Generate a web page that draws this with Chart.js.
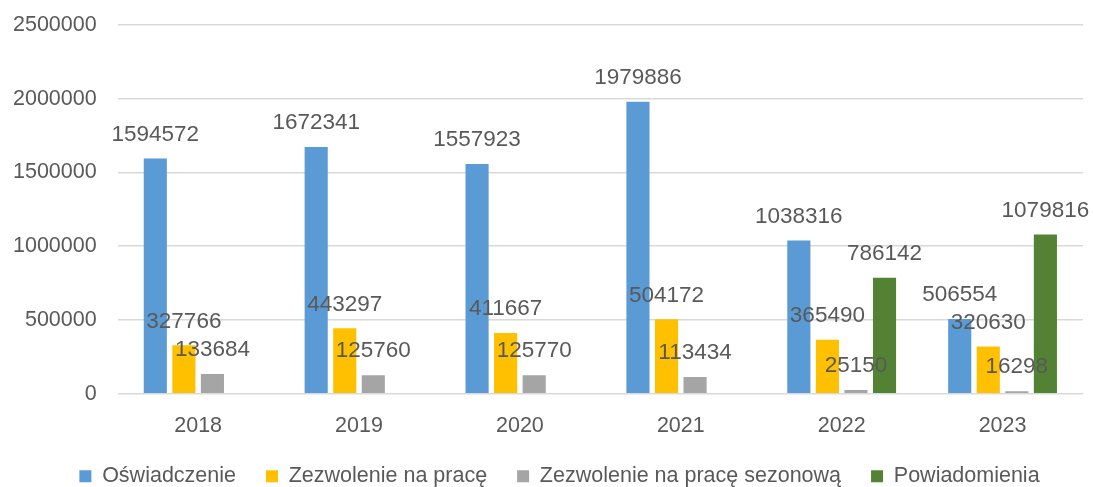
<!DOCTYPE html>
<html>
<head>
<meta charset="utf-8">
<script src="https://cdn.jsdelivr.net/npm/chart.js@4"></script>
<style>
  html, body { margin: 0; padding: 0; background: #fff; }
  #wrap { width: 1093px; height: 487px; }
</style>
</head>
<body>
<div id="wrap"><canvas id="permitsChart" width="1093" height="487"></canvas></div>
<script>
const years = ["2018", "2019", "2020", "2021", "2022", "2023"];
const oswiadczenie = [1594572, 1672341, 1557923, 1979886, 1038316, 506554];
const zezwolenie = [327766, 443297, 411667, 504172, 365490, 320630];
const zezwolenieSezonowe = [133684, 125760, 125770, 113434, 25150, 16298];
const powiadomienia = [null, null, null, null, 786142, 1079816];
const yTicks = [0, 500000, 1000000, 1500000, 2000000, 2500000];

const textColor = "#595959";
const fontFamily = "'Liberation Sans', Arial, sans-serif";
const legendTrim = 14;

// tighter legend box + labels above each bar, drawn over the bars
const chartTweaks = {
  id: "chartTweaks",
  afterInit(chart) {
    const legend = chart.legend;
    if (!legend) return;
    const fit = legend.fit;
    legend.fit = function () {
      fit.call(this);
      this.height -= legendTrim;
    };
  },
  afterLayout(chart) {
    if (!chart.legend) return;
    chart.legend.top -= legendTrim;
    // legend sits a bit right of centre in the original
    chart.legend.left += 44;
  },
  afterDatasetsDraw(chart) {
    const ctx = chart.ctx;
    ctx.save();
    ctx.font = "22.5px " + fontFamily;
    ctx.fillStyle = textColor;
    ctx.textAlign = "center";
    ctx.textBaseline = "middle";
    chart.data.datasets.forEach((ds, i) => {
      const meta = chart.getDatasetMeta(i);
      meta.data.forEach((bar, j) => {
        const v = ds.data[j];
        if (v === null || v === undefined) return;
        ctx.fillText(String(v), bar.x, bar.y - 24);
      });
    });
    ctx.restore();
  }
};

new Chart(document.getElementById("permitsChart"), {
  type: "bar",
  data: {
    labels: years,
    datasets: [
      { label: "Oświadczenie", data: oswiadczenie, backgroundColor: "#5b9bd5" },
      { label: "Zezwolenie na pracę", data: zezwolenie, backgroundColor: "#ffc000" },
      { label: "Zezwolenie na pracę sezonową", data: zezwolenieSezonowe, backgroundColor: "#a5a5a5" },
      { label: "Powiadomienia", data: powiadomienia, backgroundColor: "#548235" }
    ]
  },
  options: {
    responsive: false,
    animation: false,
    categoryPercentage: 0.71,
    barPercentage: 0.81,
    layout: { padding: { left: -8, right: 10, top: 25, bottom: -10 } },
    scales: {
      x: {
        grid: { display: false },
        border: { display: false },
        ticks: { color: textColor, font: { size: 21.5, family: fontFamily }, padding: 11 }
      },
      y: {
        min: 0,
        max: yTicks[yTicks.length - 1],
        afterBuildTicks(axis) { axis.ticks = yTicks.map(v => ({ value: v })); },
        // keep the tick padding from pushing the plot down
        afterFit(axis) { axis.paddingTop = 13; axis.paddingBottom = 13; },
        grid: { color: "#d9d9d9", lineWidth: 1.5, drawTicks: false },
        border: { display: false },
        ticks: {
          color: textColor,
          font: { size: 21.5, family: fontFamily },
          padding: 21,
          callback: v => String(v)
        }
      }
    },
    plugins: {
      legend: {
        position: "bottom",
        labels: {
          color: textColor,
          font: { size: 21.5, family: fontFamily },
          boxWidth: 12,
          boxHeight: 12,
          padding: 30
        }
      },
      tooltip: { enabled: false }
    }
  },
  plugins: [chartTweaks]
});
</script>
</body>
</html>
